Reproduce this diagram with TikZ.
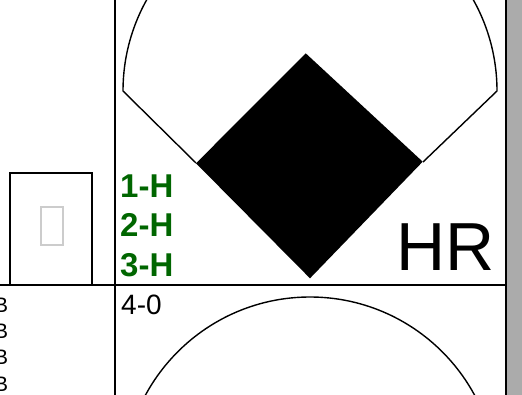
\documentclass[tikz,border=0pt]{standalone}
\usepackage{fontspec}
\setmainfont{Liberation Sans}
\definecolor{hitgreen}{RGB}{0,102,0}
\definecolor{bargray}{RGB}{171,171,171}
\definecolor{tofugray}{RGB}{204,204,204}

\newcommand*{\fieldr}{187}

\begin{document}
\begin{tikzpicture}
[
	x=1pt,y=-1pt,
	grid/.style={line width=1.7pt},
	field/.style={line width=1.4pt},
	hit/.style={font=\bfseries\fontsize{33}{33}\selectfont,text=hitgreen,anchor=base west,inner sep=0pt},
	lbl/.style={anchor=base west,inner sep=0pt}
]
	\clip (0,0) rectangle (522,395);

	% grid
	\fill[bargray] (506,0) rectangle (522,395);
	\draw[grid] (115,0) -- (115,395);
	\draw[grid] (506,0) -- (506,395);
	\draw[grid] (0,285) -- (506,285);

	% outfield, one per cell
	\foreach \cy in {91,484}
		\draw[field] (196,\cy+72) -- (123,\cy) arc[start angle=180,end angle=360,radius=\fieldr] -- (423,\cy+71);

	% infield
	\fill (305.7,53.3) -- (422.7,161.7) -- (310,278.3) -- (196,163.3) -- cycle;

	% small box
	\draw[line width=1.5pt] (10,285) -- (10,173) -- (92,173) -- (92,285);
	\draw[tofugray,line width=1.6pt] (41,207) rectangle (63,245);

	% labels
	\node[hit] (h1) at (120,197.7) {1-H};
	\node[hit] (h2) at (120,236.7) {2-H};
	\node[hit] (h3) at (120,276.7) {3-H};
	\node[lbl,font=\fontsize{68}{68}\selectfont] (hr) at (396,270.7) {HR};
	\node[lbl,font=\fontsize{28}{28}\selectfont] (score) at (121,315) {4-0};
	\foreach \y [count=\i] in {312.5,338.5,364.5,391.5}
		\node[font=\fontsize{21}{21}\selectfont,anchor=base east,inner sep=0pt] (pos\i) at (8.3,\y) {B};

\end{tikzpicture}
\end{document}
